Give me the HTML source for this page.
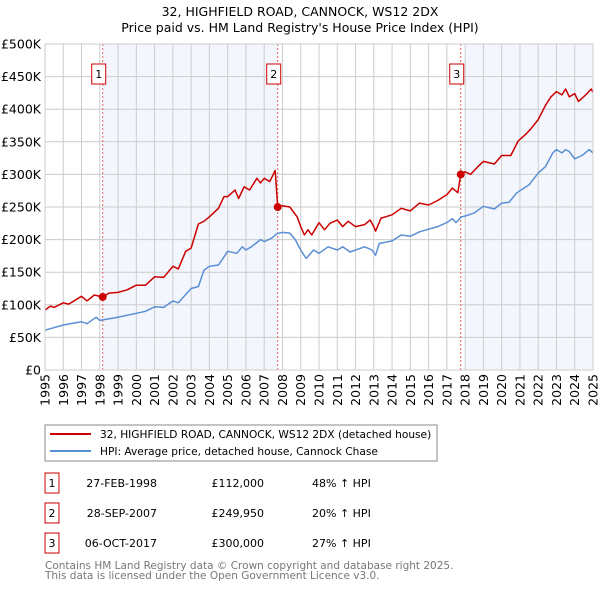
<!DOCTYPE html>
<html><head><meta charset="utf-8"><style>
body{margin:0;background:#fff;font-family:"DejaVu Sans","Liberation Sans",sans-serif;}
svg text{font-family:"DejaVu Sans","Liberation Sans",sans-serif;}
</style></head><body>
<svg id="c" width="600" height="590" viewBox="0 0 600 590" xmlns="http://www.w3.org/2000/svg">
<text x="300" y="16" text-anchor="middle" font-size="12.5">32, HIGHFIELD ROAD, CANNOCK, WS12 2DX</text>
<text x="300" y="32" text-anchor="middle" font-size="12.5">Price paid vs. HM Land Registry's House Price Index (HPI)</text>
<g id="plot"></g>
<rect x="45" y="425" width="392" height="36" fill="#fff" stroke="#888"/>
<line x1="50" y1="434" x2="91" y2="434" stroke="#cc0000" stroke-width="2"/>
<text x="100" y="438" font-size="10.6">32, HIGHFIELD ROAD, CANNOCK, WS12 2DX (detached house)</text>
<line x1="50" y1="451" x2="91" y2="451" stroke="#5b8fd4" stroke-width="2"/>
<text x="100" y="455" font-size="10.6">HPI: Average price, detached house, Cannock Chase</text>
<g id="tbl" font-size="11"></g>
<text x="45" y="569" font-size="10.5" fill="#777">Contains HM Land Registry data © Crown copyright and database right 2025.</text>
<text x="45" y="579" font-size="10.5" fill="#777">This data is licensed under the Open Government Licence v3.0.</text>
</svg>
<script>
const hpiYears=[1995,1996,1997,1997.3,1997.8,1998,1999,2000,2000.5,2001,2001.5,2002,2002.3,2003,2003.4,2003.7,2004,2004.5,2005,2005.5,2005.8,2006,2006.3,2006.8,2007,2007.4,2007.7,2008,2008.4,2008.7,2009,2009.3,2009.7,2010,2010.5,2011,2011.3,2011.7,2012,2012.5,2012.9,2013.1,2013.3,2014,2014.5,2015,2015.5,2016,2016.5,2017,2017.3,2017.5,2017.8,2018,2018.5,2019,2019.6,2020,2020.4,2020.8,2021,2021.5,2022,2022.4,2022.8,2023,2023.3,2023.5,2023.7,2024,2024.4,2024.8,2025];
const hpiValues=[61,69,74,71,81,76,81,87,90,97,96,106,103,125,128,153,159,161,182,179,189,184,189,200,197,202,209,211,210,200,184,171,184,179,189,184,189,181,184,189,184,176,194,198,207,205,212,216,220,226,232,226,235,236,241,251,247,256,257,271,275,284,302,312,333,338,333,338,335,324,329,338,333];
const priceYears=[1995,1995.3,1995.5,1996,1996.3,1997,1997.3,1997.7,1998.16,1998.5,1999,1999.5,2000,2000.5,2001,2001.5,2002,2002.3,2002.7,2003,2003.4,2003.7,2004,2004.5,2004.8,2005,2005.4,2005.6,2005.9,2006.2,2006.6,2006.8,2007,2007.3,2007.6,2007.74,2008,2008.4,2008.8,2009,2009.2,2009.4,2009.6,2010,2010.3,2010.6,2011,2011.3,2011.6,2012,2012.5,2012.8,2013,2013.1,2013.4,2014,2014.5,2015,2015.5,2016,2016.5,2017,2017.3,2017.6,2017.76,2018,2018.3,2018.7,2019,2019.6,2020,2020.5,2020.9,2021.3,2021.6,2022,2022.4,2022.7,2023,2023.3,2023.5,2023.7,2024,2024.2,2024.6,2024.9,2025];
const priceValues=[92,98,96,103,101,113,106,115,112,118,119,123,130,130,143,142,159,155,182,187,224,228,235,248,266,266,276,263,281,276,294,287,294,289,306,250,252,250,235,220,207,215,207,226,215,225,230,220,228,220,223,230,220,213,233,238,248,244,256,253,260,269,279,272,300,304,300,312,320,316,329,329,351,361,370,384,406,419,427,422,431,419,424,412,422,431,426];
const saleYears=[1998.16,2007.74,2017.76];
const saleValues=[112,249.95,300];
const saleLabels=["1","2","3"];
const saleDates=["27-FEB-1998","28-SEP-2007","06-OCT-2017"];
const salePrices=["£112,000","£249,950","£300,000"];
const salePct=["48% \u2191 HPI","20% \u2191 HPI","27% \u2191 HPI"];
const yTicks=[0,50,100,150,200,250,300,350,400,450,500];
const yTickLabels=["£0","£50K","£100K","£150K","£200K","£250K","£300K","£350K","£400K","£450K","£500K"];
const xTicks=[1995,1996,1997,1998,1999,2000,2001,2002,2003,2004,2005,2006,2007,2008,2009,2010,2011,2012,2013,2014,2015,2016,2017,2018,2019,2020,2021,2022,2023,2024,2025];

const X0=45,X1=593,Y0=370,Y1=44;
const xs=y=>X0+(y-1995)/30*(X1-X0);
const ys=v=>Y0-v/500*(Y0-Y1);
const NS="http://www.w3.org/2000/svg";
const plot=document.getElementById('plot');
function mk(tag,at,parent){const e=document.createElementNS(NS,tag);for(const k in at)e.setAttribute(k,at[k]);(parent||plot).appendChild(e);return e;}

let r=mk('rect',{x:xs(saleYears[0]),y:Y1,width:xs(saleYears[1])-xs(saleYears[0]),height:Y0-Y1,fill:'#eef3fc',opacity:0.7});


r=mk('rect',{x:xs(2018),y:Y1,width:X1-xs(2018),height:Y0-Y1,fill:'#eef3fc',opacity:0.7});



yTicks.forEach((v,i)=>{
  const l=mk('line',{x1:X0,x2:X1,y1:ys(v),y2:ys(v),stroke:'#cccccc','stroke-width':1});
  
  
  const t=mk('text',{x:X0-4,y:ys(v)+4.5,'text-anchor':'end','font-size':12.5});
  
  
  t.textContent=yTickLabels[i];
});
xTicks.forEach(y=>{
  const l=mk('line',{x1:xs(y),x2:xs(y),y1:Y1,y2:Y0,stroke:'#cccccc','stroke-width':1});
  
  
  const t=mk('text',{x:0,y:0,'font-size':12.5,'text-anchor':'end',transform:`translate(${xs(y)+4.5},${Y0+4}) rotate(-90)`});
  
  
  t.textContent=y;
});

saleYears.forEach((y,i)=>{
  const l=mk('line',{x1:xs(y),x2:xs(y),y1:Y1,y2:Y0,stroke:'#e06060','stroke-width':1,'stroke-dasharray':'2,2'});
  
  
  const b=mk('rect',{x:xs(y)-11,y:64,width:14,height:20,fill:'#fff',stroke:'#cc0000'});
  
  
  const t=mk('text',{x:xs(y)-4,y:78,'text-anchor':'middle','font-size':11});
  
  
  t.textContent=saleLabels[i];
});

const ln=(xa,va)=>xa.map((y,i)=>(i?'L':'M')+xs(y).toFixed(1)+','+ys(va[i]).toFixed(1)).join('');
let p=mk('path',{d:ln(hpiYears,hpiValues),fill:'none',stroke:'#5b8fd4','stroke-width':1.5,'stroke-linejoin':'round'});


p=mk('path',{d:ln(priceYears,priceValues),fill:'none',stroke:'#cc0000','stroke-width':1.5,'stroke-linejoin':'round'});


saleYears.forEach((y,i)=>{
  const c=mk('circle',{cx:xs(y),cy:ys(saleValues[i]),r:4,fill:'#cc0000'});
  
  
});
const ax=mk('rect',{x:X0,y:Y1,width:X1-X0,height:Y0-Y1,fill:'none',stroke:'#cccccc'});



const tbl=document.getElementById('tbl');
saleLabels.forEach((s,i)=>{
  const cy=483+i*30;
  const b=mk('rect',{x:45,y:cy-10,width:14,height:20,fill:'#fff',stroke:'#cc0000'},tbl);
  
  
  const cells=[[52,s,'middle'],[157,saleDates[i],'end'],[264,salePrices[i],'end'],[312,salePct[i],'start']];
  const names=['table-sale-number','table-sale-date','table-sale-price','table-sale-hpi-diff'];
  cells.forEach((c,j)=>{
    const t=mk('text',{x:c[0],y:cy+4,'text-anchor':c[2]},tbl);
    
    
    t.textContent=c[1];
  });
});
</script>
</body></html>
